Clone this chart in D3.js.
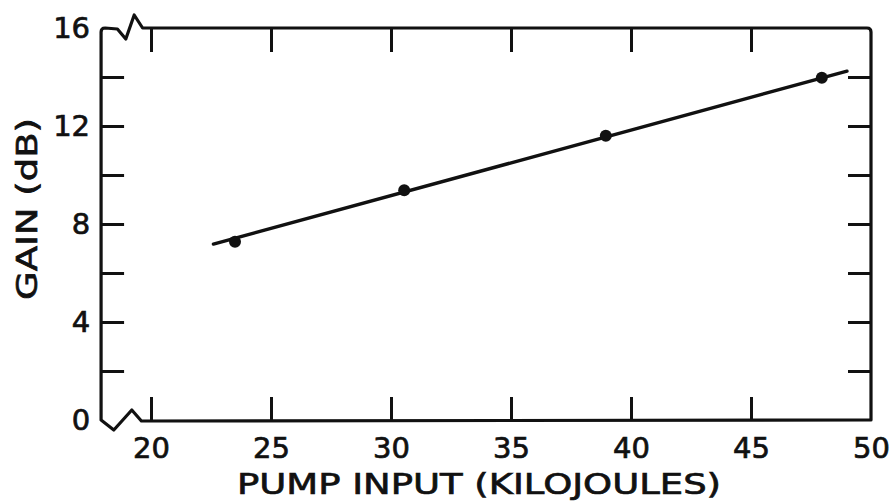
<!DOCTYPE html>
<html>
<head>
<meta charset="utf-8">
<script src="https://cdn.jsdelivr.net/npm/d3@7"></script>
<style>
	html, body { margin: 0; padding: 0; background: #fff; }
	svg { display: block; }
	text { font-family: "DejaVu Sans", sans-serif; fill: #111; stroke: #111; stroke-width: 0.7px; }
</style>
</head>
<body>
<div id="viz"><svg width="892" height="502"></svg></div>
<script>
// measured points
const pumpInput = [23.5, 30.55, 38.95, 47.95];
const gain = [7.28, 9.38, 11.6, 13.97];
// fitted straight line, end points
const fitInput = [22.6, 49.0];
const fitGain = [7.18, 14.24];

const xTicks = [20, 25, 30, 35, 40, 45, 50];
const yTicks = [0, 2, 4, 6, 8, 10, 12, 14, 16];
const yLabels = [0, 4, 8, 12, 16];

const xTitle = 'PUMP INPUT (KILOJOULES)';
const yTitle = 'GAIN (dB)';

const svg = d3.select('#viz svg');
const ink = '#111';

const x = d3.scaleLinear().domain([20, 50]).range([151, 871]);
const y = d3.scaleLinear().domain([0, 16]).range([420, 28]);
const xMin = 17.92; // broken axis start

const fLeft = x(xMin), fRight = x(50), fTop = y(16), fBottom = y(0);

// frame with the axis breaks
const frame = d3.path();
frame.moveTo(x(20) + 20, fTop);
frame.lineTo(fRight - 4, fTop);
frame.quadraticCurveTo(fRight, fTop, fRight, fTop + 4);
frame.lineTo(fRight, fBottom);
frame.lineTo(x(19.6), fBottom + 1);
frame.lineTo(x(19.2), fBottom - 10);
frame.lineTo(x(18.45), fBottom + 10);
frame.lineTo(fLeft, fBottom);
frame.lineTo(fLeft, fTop + 4);
frame.quadraticCurveTo(fLeft, fTop, fLeft + 4, fTop);
frame.lineTo(x(18.6), fTop + 1);
frame.lineTo(x(18.95), fTop + 11);
frame.lineTo(x(19.3), fTop - 13);
frame.lineTo(x(19.65), fTop);
frame.lineTo(x(20) + 20, fTop);

svg.append('path')
	.attr('d', frame.toString())
	.attr('fill', 'none')
	.attr('stroke', ink)
	.attr('stroke-width', 3.2)
	.attr('stroke-linejoin', 'round');

function styleAxis (g) {
	g.select('.domain').remove();
	g.selectAll('.tick line')
		.attr('stroke', ink)
		.attr('stroke-width', 3);
	g.selectAll('.tick text')
		.style('font-size', '29px')
		.attr('fill', ink);
}

const yFmt = d => yLabels.includes(d) ? d : '';

const gLeft = svg.append('g')
	.attr('transform', `translate(${fLeft},0)`)
	.call(d3.axisLeft(y).tickValues(yTicks).tickSize(-23).tickPadding(11).tickFormat(yFmt));
styleAxis(gLeft);
gLeft.selectAll('.tick').filter(d => d === 0 || d === 16).select('line').remove();

const gRight = svg.append('g')
	.attr('transform', `translate(${fRight},0)`)
	.call(d3.axisRight(y).tickValues(yTicks.slice(1, -1)).tickSize(-23).tickFormat(''));
styleAxis(gRight);

const gBottom = svg.append('g')
	.attr('transform', `translate(0,${fBottom})`)
	.call(d3.axisBottom(x).tickValues(xTicks).tickSize(-23).tickPadding(17).tickFormat(d3.format('d')));
styleAxis(gBottom);
gBottom.selectAll('.tick').filter(d => d === 50).select('line').remove();

const gTop = svg.append('g')
	.attr('transform', `translate(0,${fTop})`)
	.call(d3.axisTop(x).tickValues(xTicks.slice(0, -1)).tickSize(-24).tickFormat(''));
styleAxis(gTop);

// fitted line
svg.append('path')
	.datum(fitInput.map((v, i) => [v, fitGain[i]]))
	.attr('d', d3.line().x(d => x(d[0])).y(d => y(d[1])))
	.attr('fill', 'none')
	.attr('stroke', ink)
	.attr('stroke-width', 3.4)
	.attr('stroke-linecap', 'round');

svg.selectAll('circle.pt')
	.data(pumpInput)
	.enter()
		.append('circle')
		.classed('pt', true)
		.attr('cx', d => x(d))
		.attr('cy', (d, i) => y(gain[i]))
		.attr('r', 6)
		.attr('fill', ink);

// titles
svg.append('text')
	.attr('x', 479)
	.attr('y', 494)
	.attr('text-anchor', 'middle')
	.attr('textLength', 484)
	.attr('lengthAdjust', 'spacingAndGlyphs')
	.style('font-size', '29px')
	.text(xTitle);

svg.append('text')
	.attr('transform', 'translate(37,209) rotate(-90)')
	.attr('text-anchor', 'middle')
	.attr('textLength', 182)
	.attr('lengthAdjust', 'spacingAndGlyphs')
	.style('font-size', '29px')
	.text(yTitle);
</script>
</body>
</html>
